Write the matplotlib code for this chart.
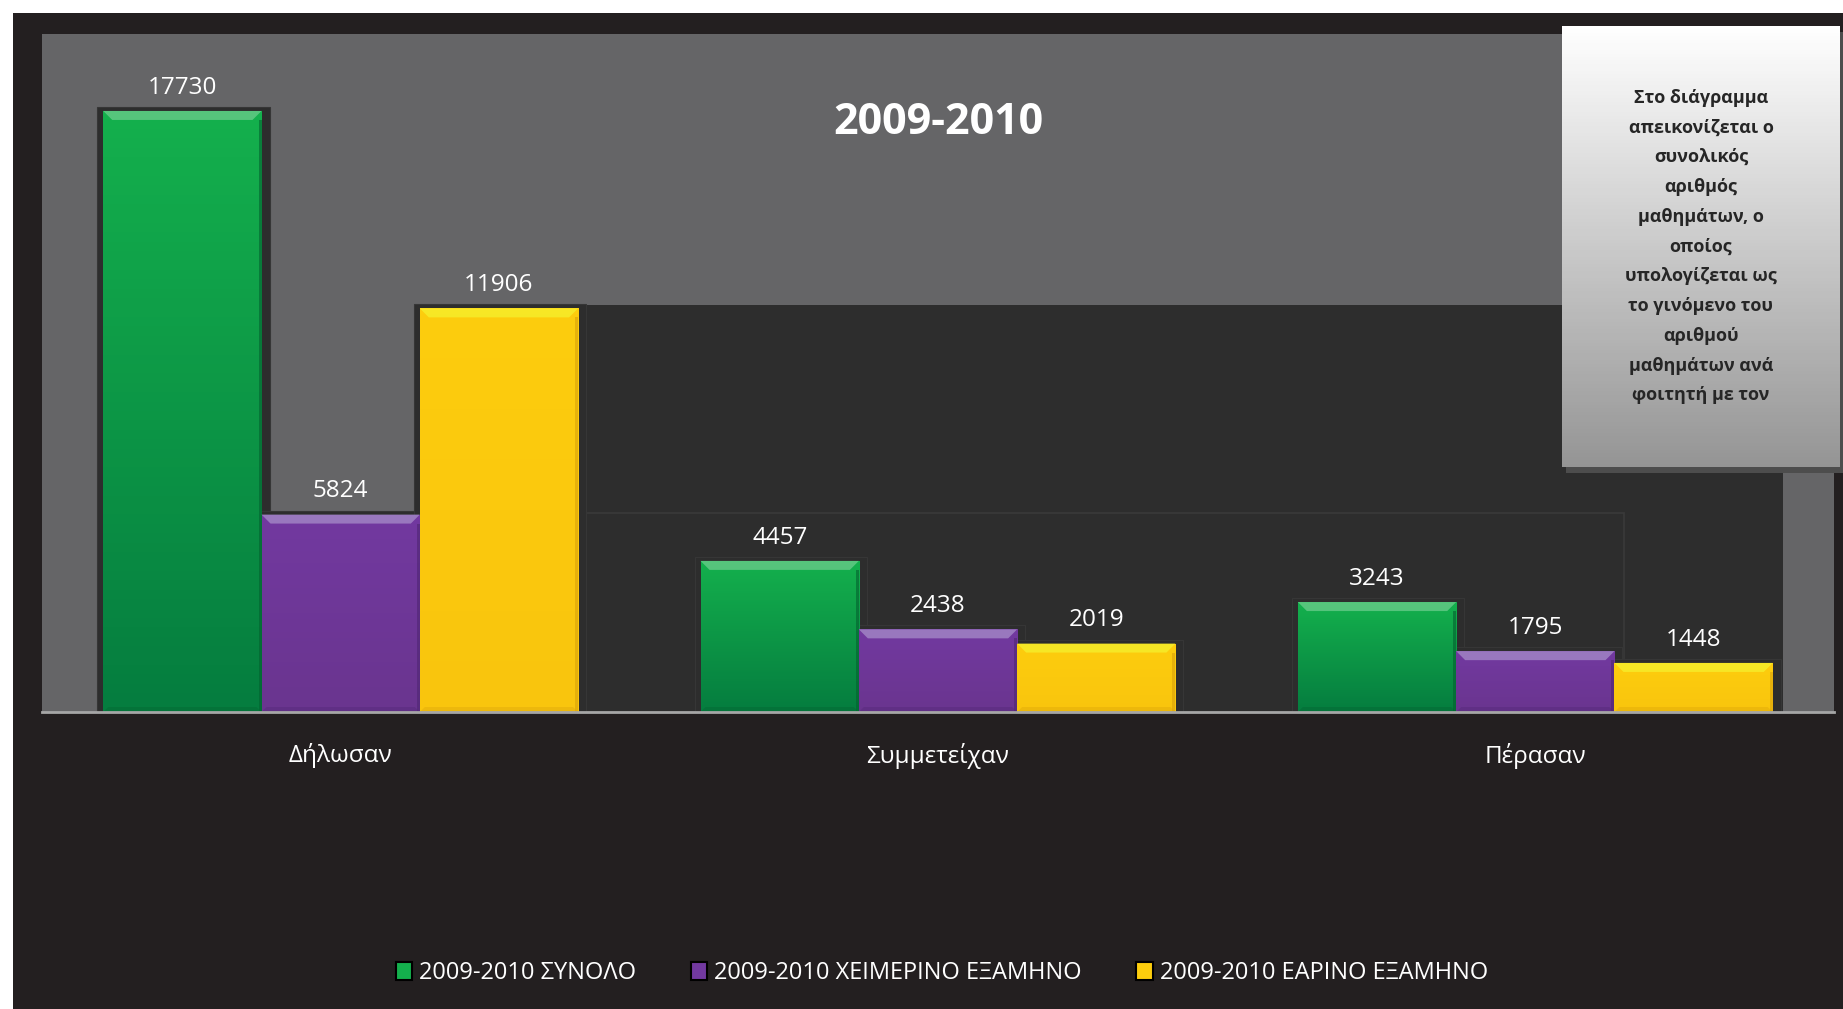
import numpy as np
import matplotlib.pyplot as plt
from matplotlib.patches import Rectangle, Polygon, Patch

categories = ["Δήλωσαν", "Συμμετείχαν", "Πέρασαν"]
series_names = [
    "2009-2010 ΣΥΝΟΛΟ",
    "2009-2010 ΧΕΙΜΕΡΙΝΟ ΕΞΑΜΗΝΟ",
    "2009-2010 ΕΑΡΙΝΟ ΕΞΑΜΗΝΟ",
]
total = [17730, 4457, 3243]
winter = [5824, 2438, 1795]
spring = [11906, 2019, 1448]
title = "2009-2010"
note_lines = [
    "Στο διάγραμμα",
    "απεικονίζεται ο",
    "συνολικός",
    "αριθμός",
    "μαθημάτων, ο",
    "οποίος",
    "υπολογίζεται ως",
    "το γινόμενο του",
    "αριθμού",
    "μαθημάτων ανά",
    "φοιτητή με τον",
]

plt.rcParams["font.family"] = ["Open Sans", "DejaVu Sans"]

W, H = 1843, 1009
fig = plt.figure(figsize=(W / 100, H / 100), dpi=100, facecolor="white")

# dark chart background (leaves thin white strip top / left)
fig.patches.append(Rectangle((13 / W, 0), 1, 1 - 13 / H, transform=fig.transFigure,
                             facecolor="#231f20", edgecolor="none", zorder=-5))

ax = fig.add_axes([42 / W, 1 - 712 / H, (1834 - 42) / W, (712 - 34) / H])
ax.set_facecolor("#656567")
ax.set_xlim(-0.5, 2.5)
ax.set_ylim(0, 20000)

# pixel -> data helpers
px_x = 1 / 597.3
px_y = 20000 / 678

x = np.arange(len(categories))
bw = 0.265
series = [total, winter, spring]
offsets = [-bw, 0, bw]
styles = [
    # top, bottom, bevel, edge-dark
    ("#14b04d", "#057d3f", "#62c985", "#03612f"),
    ("#7239a0", "#6a358f", "#a184c4", "#4f2673"),
    ("#fdcd0d", "#f9c50e", "#f6ec2a", "#d9a20a"),
]

# big stretched shadows behind first group (as in the source picture)
yl = x[0] + offsets[2] - bw / 2
yr = x[-1] + offsets[2] + bw / 2 + 10 * px_x
ax.add_patch(Rectangle((yl - 6 * px_x, 0), yr - yl + 6 * px_x, spring[0] + 3 * px_y,
                       facecolor="#2d2d2d", edgecolor="none", zorder=1))
pl = x[0] + offsets[1] - bw / 2
pr = x[-1] + offsets[1] + bw / 2 + 10 * px_x
ax.add_patch(Rectangle((pl, 0), pr - pl, winter[0] + 2 * px_y,
                       facecolor="none", edgecolor="#3a3a3a", lw=1.2, zorder=1.2))

for vals, off, (ctop, cbot, cbev, cdark) in zip(series, offsets, styles):
    for xi, v in zip(x, vals):
        x0 = xi + off - bw / 2
        x1 = xi + off + bw / 2
        # small shadow
        ax.add_patch(Rectangle((x0 - 6 * px_x, 0), bw + 14 * px_x, v + 4 * px_y,
                               facecolor="#2d2d2d", edgecolor="#363636", lw=0.8, zorder=1.5))
        bar = ax.bar(xi + off, v, bw, color=ctop, edgecolor="none", zorder=2)[0]
        grad = np.linspace(0, 1, 64).reshape(-1, 1)
        c1 = np.array(plt.matplotlib.colors.to_rgb(ctop))
        c2 = np.array(plt.matplotlib.colors.to_rgb(cbot))
        img = c1[None, None, :] * (1 - grad[..., None]) + c2[None, None, :] * grad[..., None]
        im = ax.imshow(img, extent=(x0, x1, 0, v), origin="upper", aspect="auto", zorder=2.1)
        im.set_clip_path(bar)
        dx, dy = 9 * px_x, 9 * px_y
        ax.add_patch(Polygon([(x0, v), (x1, v), (x1 - dx, v - dy), (x0 + dx, v - dy)],
                             closed=True, facecolor=cbev, edgecolor="none", alpha=0.85, zorder=2.3))
        ax.add_patch(Rectangle((x1 - 3 * px_x, 0), 3 * px_x, v - dy,
                               facecolor=cdark, edgecolor="none", alpha=0.6, zorder=2.3))
        ax.add_patch(Polygon([(x0, 0), (x1, 0), (x1 - 5 * px_x, 5 * px_y), (x0 + 5 * px_x, 5 * px_y)],
                             closed=True, facecolor=cdark, edgecolor="none", alpha=0.35, zorder=2.3))
        ax.annotate(f"{v}", (xi + off, v), xytext=(0, 8), textcoords="offset points",
                    ha="center", va="bottom", color="white", fontsize=17.5, zorder=3)

ax.text(0.5, 0.87, title, transform=ax.transAxes, ha="center", va="center",
        color="white", fontsize=31, fontweight="bold")

for s in ["top", "right", "left"]:
    ax.spines[s].set_visible(False)
ax.spines["bottom"].set_color("#a6a6a6")
ax.spines["bottom"].set_linewidth(2)
ax.spines["bottom"].set_zorder(4)
ax.set_yticks([])
ax.set_xticks(x)
ax.set_xticklabels(categories, color="white", fontsize=17.5)
ax.tick_params(axis="x", length=0, pad=22)

# note box with gradient and shadow
bx0, by0, bx1, by1 = 1562, 26, 1840, 467
fig.patches.append(Rectangle(((bx0 + 4) / W, 1 - (by1 + 6) / H), (bx1 - bx0) / W, (by1 - by0) / H,
                             transform=fig.transFigure, facecolor="#4d4d4d",
                             edgecolor="none", zorder=4))
nax = fig.add_axes([bx0 / W, 1 - by1 / H, (bx1 - bx0) / W, (by1 - by0) / H], zorder=5)
g = np.linspace(1.0, 0.585, 128).reshape(-1, 1)
nax.imshow(np.dstack([g, g, g]), extent=(0, 1, 0, 1), aspect="auto", origin="upper")
nax.set_xlim(0, 1)
nax.set_ylim(0, 1)
nax.axis("off")
nax.text(0.5, 0.5, "\n".join(note_lines), ha="center", va="center", color="#262626",
         fontsize=13, fontweight="bold", linespacing=1.84)

handles = [Patch(facecolor=s[0], edgecolor="black", lw=1.5) for s in styles]
fig.legend(handles, series_names, loc="center", bbox_to_anchor=(0.511, 1 - 973 / H),
           ncol=3, frameon=False, labelcolor="white", fontsize=17,
           handlelength=0.7, handleheight=0.8, handletextpad=0.3, columnspacing=2.3)

fig.savefig("out.png", dpi=100, facecolor=fig.get_facecolor())
